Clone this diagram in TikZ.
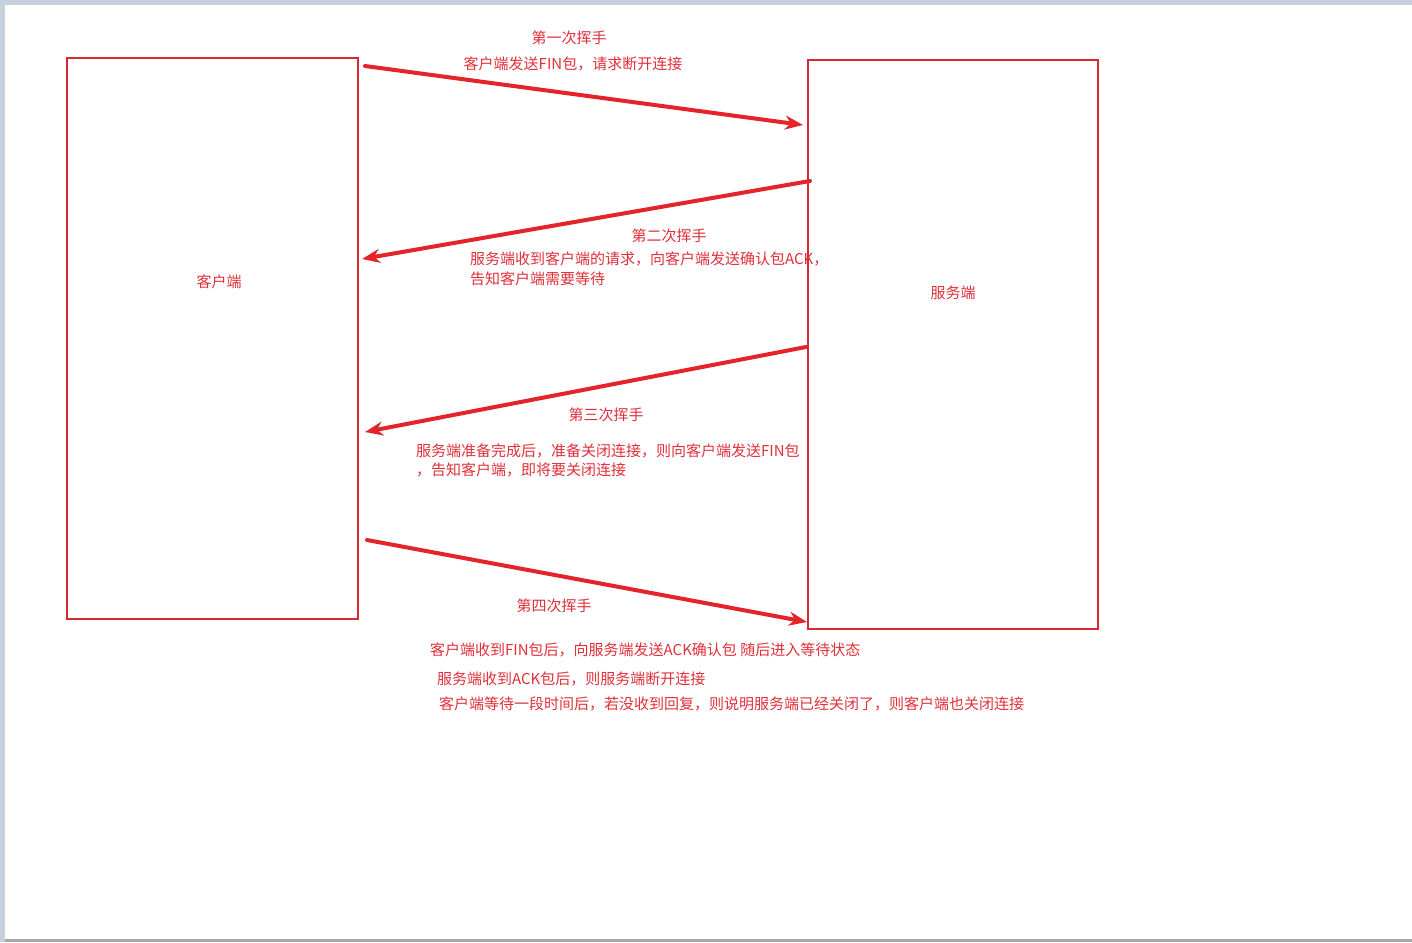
\documentclass[tikz,border=0pt]{standalone}
\usepackage{fontspec}
\setmainfont{Noto Sans CJK SC}
\usepackage{xcolor}
\definecolor{cRed}{HTML}{E3242B}
\definecolor{cBox}{HTML}{D42A33}
\definecolor{cText}{HTML}{E0303A}
\definecolor{cFrame}{HTML}{C6D0DE}
\definecolor{cEdge}{HTML}{A8A8A8}
\usepackage{tikz}
\usetikzlibrary{positioning,arrows.meta}
\tikzset{
  node-host/.style={draw=cBox,line width=2pt,inner sep=0pt},
  node-label/.style={text=cText,inner sep=0pt,font=\fontsize{15}{18}\selectfont},
  node-note/.style={node-label,anchor=west},
  % 挥手箭头
  arrow-wave/.style={-{Stealth[length=18pt,width=14pt]},line width=4pt,draw=cRed,line cap=round},
}

\begin{document}
\begin{tikzpicture}[x=1pt,y=-1pt]
  \useasboundingbox (0,0) rectangle (1412,942);
  % 截图边框
  \fill[cFrame] (0,0) rectangle (1412,942);
  \fill[white] (5,5) rectangle (1412,939);
  \fill[cEdge] (5,939) rectangle (1412,942);

  \node[node-host,minimum width=291pt,minimum height=561pt] (cli) at (212.5,338.5) {};
  \node[node-host,minimum width=290pt,minimum height=569pt] (srv) at (953,344.5) {};
  \node[node-label] (cliname) at (219,282) {客户端};
  \node[node-label] (srvname) at (953,293) {服务端};

  % 箭头端点
  \coordinate (a1) at (365,66);  \coordinate (b1) at (803,125);
  \coordinate (a2) at (810,181); \coordinate (b2) at (362,259);
  \coordinate (a3) at (806,347); \coordinate (b3) at (365,432);
  \coordinate (a4) at (367,540); \coordinate (b4) at (807,622);
  \draw[arrow-wave] (a1) -- (b1);
  \draw[arrow-wave] (a2) -- (b2);
  \draw[arrow-wave] (a3) -- (b3);
  \draw[arrow-wave] (a4) -- (b4);

  \node[node-label] (w1) at (569,38) {第一次挥手};
  \node[node-label] (w1a) at (573,64) {客户端发送FIN包，请求断开连接};

  \node[node-label] (w2) at (669,236) {第二次挥手};
  \node[node-note] (w2a) at (470,259) {服务端收到客户端的请求，向客户端发送确认包ACK，};
  \node[node-note] (w2b) at (470,279) {告知客户端需要等待};

  \node[node-label] (w3) at (606,415) {第三次挥手};
  \node[node-note] (w3a) at (416,451) {服务端准备完成后，准备关闭连接，则向客户端发送FIN包};
  \node[node-note] (w3b) at (416,470) {，告知客户端，即将要关闭连接};

  \node[node-label] (w4) at (554,606) {第四次挥手};
  \node[node-note] (w4a) at (430,650) {客户端收到FIN包后，向服务端发送ACK确认包 随后进入等待状态};
  \node[node-note] (w4b) at (437,679) {服务端收到ACK包后，则服务端断开连接};
  \node[node-note] (w4c) at (439,704) {客户端等待一段时间后，若没收到回复，则说明服务端已经关闭了，则客户端也关闭连接};
\end{tikzpicture}
\end{document}
